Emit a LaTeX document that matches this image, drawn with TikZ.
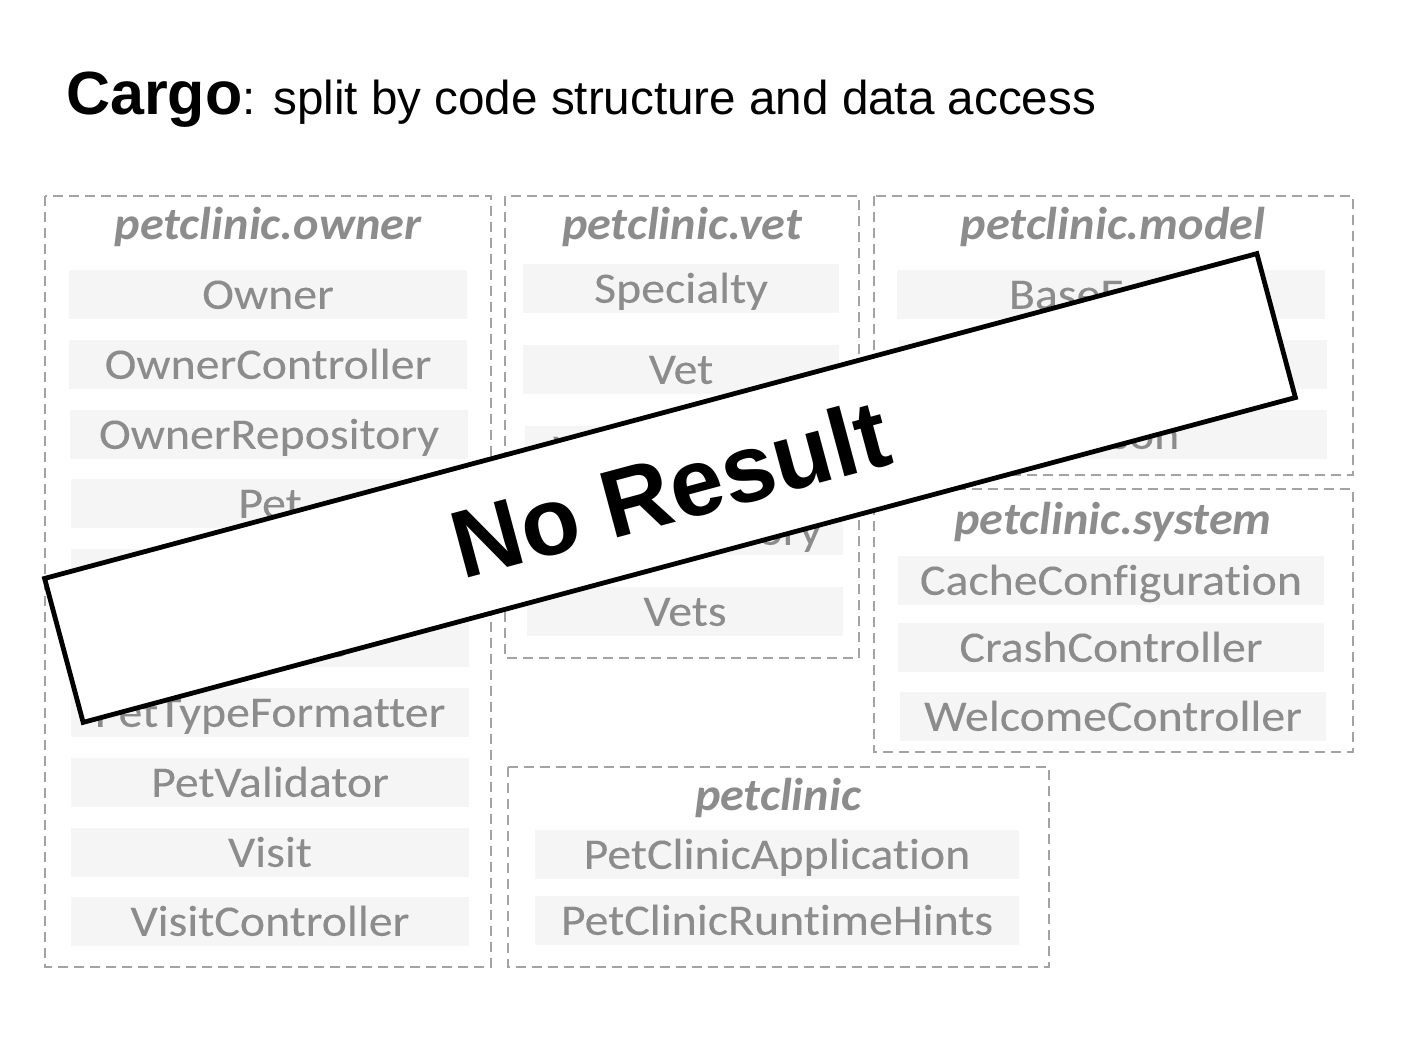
\documentclass[tikz,border=0pt]{standalone}
\usepackage{fontspec}
\setmainfont{Liberation Sans}
\newfontfamily\arialfont{Liberation Sans}
\newfontfamily\itemfont[FakeStretch=1.1, FakeBold=0.12, Ligatures={NoCommon,NoContextual}]{Carlito}
\newfontfamily\headfont[FakeStretch=1.05, Ligatures={NoCommon,NoContextual}]{Carlito}
\definecolor{txtgray}{HTML}{8C8C8C}
\definecolor{itemfill}{HTML}{F5F5F5}
\definecolor{pkgline}{HTML}{A3A3A3}
\begin{document}
\begin{tikzpicture}[x=1pt,y=-1pt,
  pkg/.style={draw=pkgline, line width=1.8pt, dash pattern=on 10pt off 6pt},
  itm/.style={fill=itemfill, text=txtgray, font=\itemfont\fontsize{43.5}{50}\selectfont,
    inner xsep=0pt, inner ysep=9.75pt, text height=29.5pt, text depth=-2pt, minimum width=398pt},
  hdr/.style={anchor=base, text=txtgray, inner sep=0pt,
    font=\headfont\bfseries\itshape\fontsize{46}{54}\selectfont},
  banner/.style={draw=black, line width=4.8pt, fill=white, minimum width=1255pt,
    minimum height=149pt, inner sep=0pt, rotate=15,
    font=\arialfont\bfseries\fontsize{96}{110}\selectfont}]
\useasboundingbox (0,0) rectangle (1412,1049);
% title
\node[anchor=base west, inner sep=0pt] (title) at (66,114)
  {\fontsize{61}{72}\selectfont\bfseries Cargo\fontsize{47.6}{58}\selectfont\mdseries: split by code structure and data access};
% package frames
\draw[pkg] (45,196) rectangle (491,967);
\draw[pkg] (505,196) rectangle (859,658);
\draw[pkg] (874,196) rectangle (1353,475);
\draw[pkg] (874,489) rectangle (1353,752);
\draw[pkg] (508,767) rectangle (1049,967);
% owner
\node[hdr] (howner) at (268,239) {petclinic.owner};
\node[itm] (o1) at (268,294) {Owner};
\node[itm] (o2) at (268,364) {OwnerController};
\node[itm] (o3) at (269,434) {OwnerRepository};
\node[itm] (o4) at (270,503) {Pet};
\node[itm] (o5) at (270,573) {PetController};
\node[itm] (o6) at (270,642) {PetType};
\node[itm] (o7) at (270,712) {PetTypeFormatter};
\node[itm] (o8) at (270,782) {PetValidator};
\node[itm] (o9) at (270,852) {Visit};
\node[itm] (o10) at (270,921) {VisitController};
% vet
\node[hdr] (hvet) at (682,239) {petclinic.vet};
\node[itm, minimum width=316pt] (v1) at (681,288) {Specialty};
\node[itm, minimum width=316pt] (v2) at (681,369) {Vet};
\node[itm, minimum width=316pt] (v3) at (683,450) {VetController};
\node[itm, minimum width=316pt] (v4) at (685,530) {VetRepository};
\node[itm, minimum width=316pt] (v5) at (685,611) {Vets};
% model
\node[hdr] (hmodel) at (1113,239) {petclinic.model};
\node[itm, minimum width=428pt] (m1) at (1111,294) {BaseEntity};
\node[itm, minimum width=428pt] (m2) at (1113,364) {NamedEntity};
\node[itm, minimum width=428pt] (m3) at (1113,434) {Person};
% system
\node[hdr] (hsystem) at (1113,534) {petclinic.system};
\node[itm, minimum width=426pt] (s1) at (1111,580) {CacheConfiguration};
\node[itm, minimum width=426pt] (s2) at (1111,647) {CrashController};
\node[itm, minimum width=426pt] (s3) at (1113,716) {WelcomeController};
% petclinic
\node[hdr] (hroot) at (778,810) {petclinic};
\node[itm, minimum width=484pt] (p1) at (777,854) {PetClinicApplication};
\node[itm, minimum width=484pt] (p2) at (777,920) {PetClinicRuntimeHints};
% banner
\node[banner] (nores) at (670,488) {No Result};
\end{tikzpicture}
\end{document}
